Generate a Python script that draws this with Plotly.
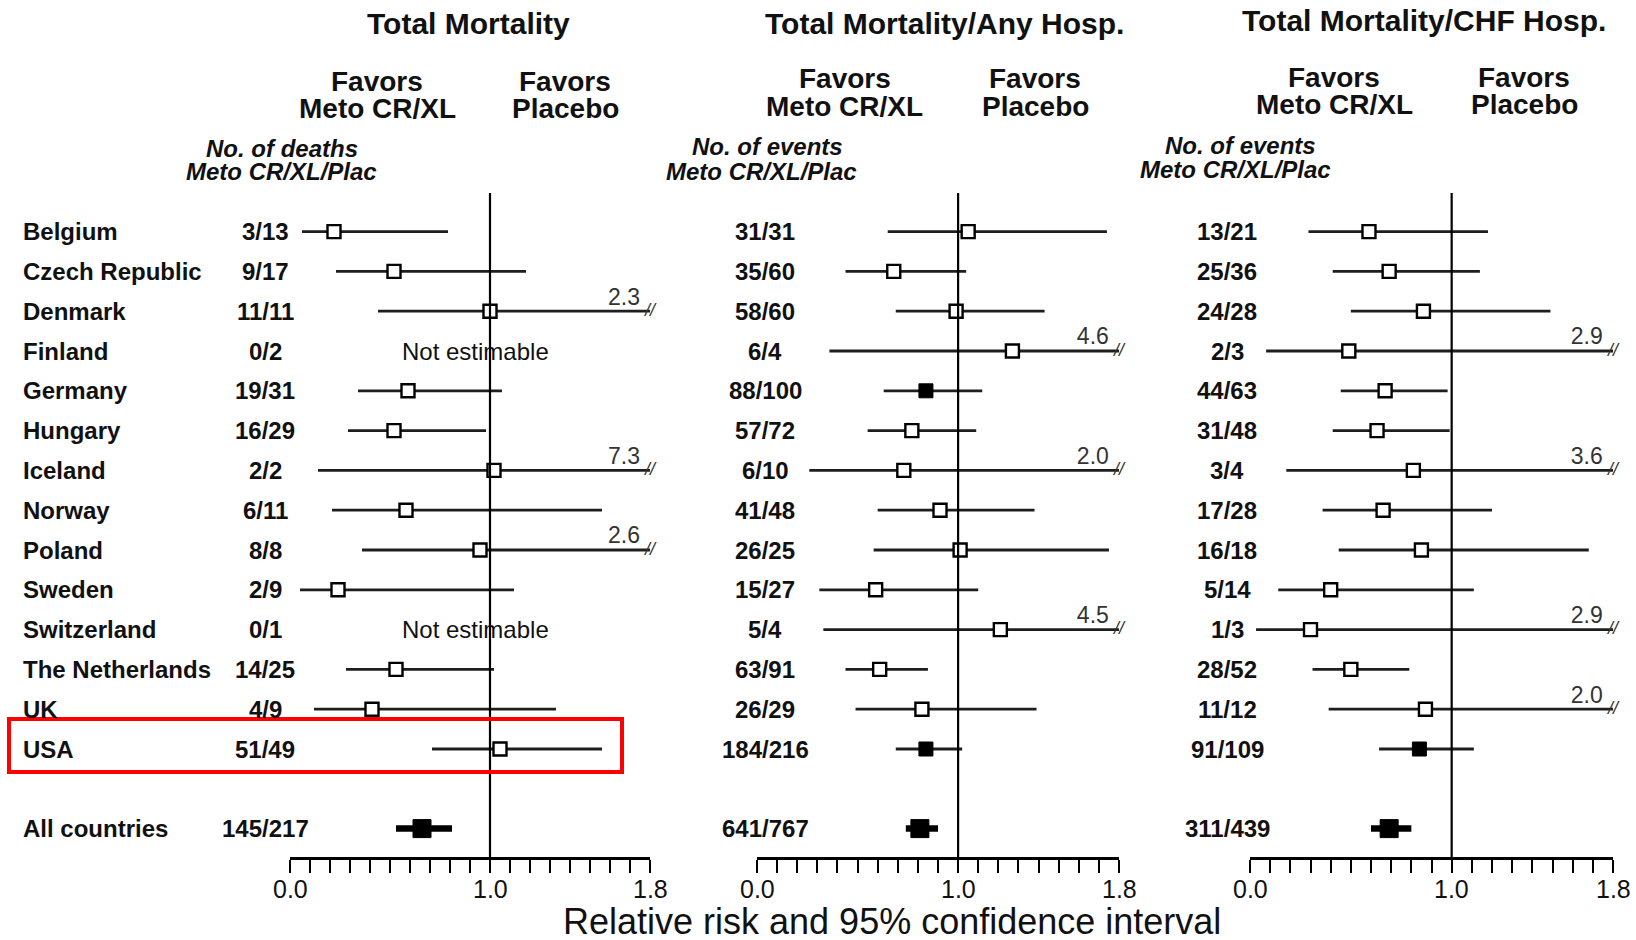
import plotly.graph_objects as go

W, H = 1636, 940
FONT = "Liberation Sans"

# ---------------- data ----------------
countries = ["Belgium", "Czech Republic", "Denmark", "Finland", "Germany", "Hungary",
             "Iceland", "Norway", "Poland", "Sweden", "Switzerland", "The Netherlands",
             "UK", "USA", "All countries"]
row_index = [0, 1, 2, 3, 4, 5, 6, 7, 8, 9, 10, 11, 12, 13, 15]

# Total mortality
tm_counts = ["3/13", "9/17", "11/11", "0/2", "19/31", "16/29", "2/2", "6/11", "8/8", "2/9",
             "0/1", "14/25", "4/9", "51/49", "145/217"]
tm_rr = [0.22, 0.52, 1.00, None, 0.59, 0.52, 1.02, 0.58, 0.95, 0.24, None, 0.53, 0.41, 1.05, 0.66]
tm_lo = [0.06, 0.23, 0.44, None, 0.34, 0.29, 0.14, 0.21, 0.36, 0.05, None, 0.28, 0.12, 0.71, 0.53]
tm_hi = [0.79, 1.18, 2.3, None, 1.06, 0.98, 7.3, 1.56, 2.6, 1.12, None, 1.02, 1.33, 1.56, 0.81]
tm_style = ["open"] * 14 + ["summary"]

# Total mortality / any hospitalisation
ah_counts = ["31/31", "35/60", "58/60", "6/4", "88/100", "57/72", "6/10", "41/48", "26/25",
             "15/27", "5/4", "63/91", "26/29", "184/216", "641/767"]
ah_rr = [1.05, 0.68, 0.99, 1.27, 0.84, 0.77, 0.73, 0.91, 1.01, 0.59, 1.21, 0.61, 0.82, 0.84, 0.81]
ah_lo = [0.65, 0.44, 0.69, 0.36, 0.63, 0.55, 0.26, 0.60, 0.58, 0.31, 0.33, 0.44, 0.49, 0.69, 0.74]
ah_hi = [1.74, 1.04, 1.43, 4.6, 1.12, 1.09, 2.0, 1.38, 1.75, 1.10, 4.5, 0.85, 1.39, 1.02, 0.90]
ah_style = ["open", "open", "open", "open", "filled", "open", "open", "open", "open", "open",
            "open", "open", "open", "filled", "summary"]

# Total mortality / CHF hospitalisation
chf_counts = ["13/21", "25/36", "24/28", "2/3", "44/63", "31/48", "3/4", "17/28", "16/18",
              "5/14", "1/3", "28/52", "11/12", "91/109", "311/439"]
chf_rr = [0.59, 0.69, 0.86, 0.49, 0.67, 0.63, 0.81, 0.66, 0.85, 0.40, 0.30, 0.50, 0.87, 0.84, 0.69]
chf_lo = [0.29, 0.41, 0.50, 0.08, 0.45, 0.41, 0.18, 0.36, 0.44, 0.14, 0.03, 0.31, 0.39, 0.64, 0.60]
chf_hi = [1.18, 1.14, 1.49, 2.9, 0.98, 0.99, 3.6, 1.20, 1.68, 1.11, 2.9, 0.79, 2.0, 1.11, 0.80]
chf_style = ["open"] * 13 + ["filled", "summary"]

panel_titles = ["Total Mortality", "Total Mortality/Any Hosp.", "Total Mortality/CHF Hosp."]
count_headers = [["No. of deaths", "Meto CR/XL/Plac"],
                 ["No. of events", "Meto CR/XL/Plac"],
                 ["No. of events", "Meto CR/XL/Plac"]]
tick_values = [0.0, 0.1, 0.2, 0.3, 0.4, 0.5, 0.6, 0.7, 0.8, 0.9, 1.0,
               1.1, 1.2, 1.3, 1.4, 1.5, 1.6, 1.7, 1.8]
label_values = [0.0, 1.0, 1.8]
label_texts = ["0.0", "1.0", "1.8"]
x_title = "Relative risk and 95% confidence interval"
not_estimable = "Not estimable"

# ---------------- layout geometry (pixels) ----------------
ROW0_PX, ROW_STEP = 231.6, 39.8
AXIS_PX = 858
TICKLABEL_PX = 889
XMAX = 1.8
NULL_RR = 1.0
panel_px = [(290, 650), (757, 1119), (1250, 1613)]
count_col_px = [265, 765, 1227]
title_px = [(468, 23), (944, 23), (1424, 21)]
favors_px = [(377, 565), (845, 1035), (1334, 1524)]
favors_y = [(81, 108.5), (79, 106), (78, 105)]
counthdr_px = [(282, 281), (767, 761), (1240, 1235)]
counthdr_y = [(148, 172), (147, 171), (145, 169)]


def px2paper(x, y):
    return x / W, 1 - y / H


def px2row(y):
    return (y - ROW0_PX) / ROW_STEP


panels = [
    dict(counts=tm_counts, rr=tm_rr, lo=tm_lo, hi=tm_hi, style=tm_style),
    dict(counts=ah_counts, rr=ah_rr, lo=ah_lo, hi=ah_hi, style=ah_style),
    dict(counts=chf_counts, rr=chf_rr, lo=chf_lo, hi=chf_hi, style=chf_style),
]

fig = go.Figure()
annotations = []
shapes = []
LINE_COL = "#1e1e1e"

for p, pan in enumerate(panels):
    xa = "x" if p == 0 else f"x{p + 1}"
    # CI lines
    lx, ly, sx, sy = [], [], [], []
    tx, ty, tt = [], [], []
    for i, r in enumerate(row_index):
        lo, hi = pan["lo"][i], pan["hi"][i]
        if lo is None:
            continue
        h = min(hi, XMAX)
        if pan["style"][i] == "summary":
            sx += [lo, h, None]
            sy += [r, r, None]
        else:
            lx += [lo, h, None]
            ly += [r, r, None]
        if hi > XMAX:
            tx.append(XMAX)
            ty.append(r)
            tt.append(f"{hi:.1f}")
    fig.add_trace(go.Scatter(x=lx, y=ly, xaxis=xa, yaxis="y", mode="lines",
                             line=dict(color=LINE_COL, width=2.8), hoverinfo="skip",
                             showlegend=False))
    fig.add_trace(go.Scatter(x=sx, y=sy, xaxis=xa, yaxis="y", mode="lines",
                             line=dict(color="black", width=6.5), hoverinfo="skip",
                             showlegend=False))
    # markers
    for style, size, fill, lw in [("open", 13, "white", 2.4), ("filled", 14, "black", 1),
                                  ("summary", 18, "black", 1)]:
        mx = [pan["rr"][i] for i in range(len(row_index))
              if pan["style"][i] == style and pan["rr"][i] is not None]
        my = [row_index[i] for i in range(len(row_index))
              if pan["style"][i] == style and pan["rr"][i] is not None]
        fig.add_trace(go.Scatter(x=mx, y=my, xaxis=xa, yaxis="y", mode="markers",
                                 marker=dict(symbol="square", size=size, color=fill,
                                             line=dict(color="black", width=lw)),
                                 showlegend=False, hoverinfo="skip"))
    # truncation labels and break marks
    fig.add_trace(go.Scatter(x=[v - 0.13 for v in tx], y=[r - 0.31 for r in ty], text=tt,
                             xaxis=xa, yaxis="y", mode="text",
                             textfont=dict(family=FONT, size=23, color="#333"),
                             showlegend=False, hoverinfo="skip", cliponaxis=False))
    fig.add_trace(go.Scatter(x=tx, y=ty, text=["//"] * len(tx), xaxis=xa, yaxis="y",
                             mode="text",
                             textfont=dict(family=FONT, size=18, color="#333", style="italic"),
                             showlegend=False, hoverinfo="skip", cliponaxis=False))
    # null line
    shapes.append(dict(type="line", xref=xa, yref="y", x0=NULL_RR, x1=NULL_RR,
                       y0=px2row(193), y1=px2row(AXIS_PX),
                       line=dict(color="black", width=2.2)))
    # axis tick labels
    for v, t in zip(label_values, label_texts):
        annotations.append(dict(x=v, xref=xa, y=px2row(TICKLABEL_PX), yref="y", text=t,
                                showarrow=False, xanchor="center", yanchor="middle",
                                font=dict(family=FONT, size=25, color="#111")))
    # counts column
    for i, r in enumerate(row_index):
        cx, cy = px2paper(count_col_px[p], 0)
        annotations.append(dict(x=cx, xref="paper", y=r, yref="y", text=pan["counts"][i],
                                showarrow=False, xanchor="center", yanchor="middle",
                                font=dict(family=FONT, size=24, weight="bold", color="#111")))
        if pan["rr"][i] is None:
            annotations.append(dict(x=0.925, xref=xa, y=r, yref="y", text=not_estimable,
                                    showarrow=False, xanchor="center", yanchor="middle",
                                    font=dict(family=FONT, size=24, color="#111")))
    # headers
    tx0, ty0 = px2paper(*title_px[p])
    annotations.append(dict(x=tx0, y=ty0, xref="paper", yref="paper", text=panel_titles[p],
                            showarrow=False, xanchor="center", yanchor="middle",
                            font=dict(family=FONT, size=30, weight="bold", color="#111")))
    for k, lines in enumerate([["Favors", "Meto CR/XL"], ["Favors", "Placebo"]]):
        for j, txt in enumerate(lines):
            fx, fy = px2paper(favors_px[p][k], favors_y[p][j])
            annotations.append(dict(x=fx, y=fy, xref="paper", yref="paper", text=txt,
                                    showarrow=False, xanchor="center", yanchor="middle",
                                    font=dict(family=FONT, size=28, weight="bold",
                                              color="#111")))
    for j, txt in enumerate(count_headers[p]):
        hx, hy = px2paper(counthdr_px[p][j], counthdr_y[p][j])
        annotations.append(dict(x=hx, y=hy, xref="paper", yref="paper", text=txt,
                                showarrow=False, xanchor="center", yanchor="middle",
                                font=dict(family=FONT, size=24, weight="bold",
                                          style="italic", color="#111")))

# country labels
for i, r in enumerate(row_index):
    annotations.append(dict(x=21 / W, xref="paper", y=r, yref="y", text=countries[i],
                            showarrow=False, xanchor="left", yanchor="middle",
                            font=dict(family=FONT, size=24, weight="bold", color="#111")))

# x axis title
ax_, ay_ = px2paper(892, 921)
annotations.append(dict(x=ax_, y=ay_, xref="paper", yref="paper", text=x_title,
                        showarrow=False, xanchor="center", yanchor="middle",
                        font=dict(family=FONT, size=36, color="#111")))

# highlight box around USA row
x0p, y0p = px2paper(9, 719)
x1p, y1p = px2paper(622, 772)
shapes.append(dict(type="rect", xref="paper", yref="paper", x0=x0p, x1=x1p, y0=y1p, y1=y0p,
                   line=dict(color="#ff0000", width=4), fillcolor="rgba(0,0,0,0)"))

axis_common = dict(range=[0, XMAX], anchor="free", position=1 - AXIS_PX / H,
                   showline=True, linecolor="black", linewidth=2.5,
                   ticks="outside", ticklen=13, tickwidth=2.2, tickcolor="black",
                   tickvals=tick_values, showticklabels=False,
                   showgrid=False, zeroline=False, fixedrange=True, automargin=False)

layout_axes = {}
for p, (a, b) in enumerate(panel_px):
    key = "xaxis" if p == 0 else f"xaxis{p + 1}"
    layout_axes[key] = dict(domain=[a / W, b / W], **axis_common)

fig.update_layout(
    width=W, height=H, margin=dict(l=0, r=0, t=0, b=0, pad=0, autoexpand=False),
    paper_bgcolor="white", plot_bgcolor="rgba(0,0,0,0)",
    yaxis=dict(domain=[0, 1], range=[px2row(H), px2row(0)], visible=False, fixedrange=True),
    annotations=annotations, shapes=shapes, showlegend=False,
    font=dict(family=FONT),
    **layout_axes,
)

fig.write_html("out.html", config={"displayModeBar": False},
               post_script="document.body.style.margin='0';document.body.style.overflow='hidden';")
